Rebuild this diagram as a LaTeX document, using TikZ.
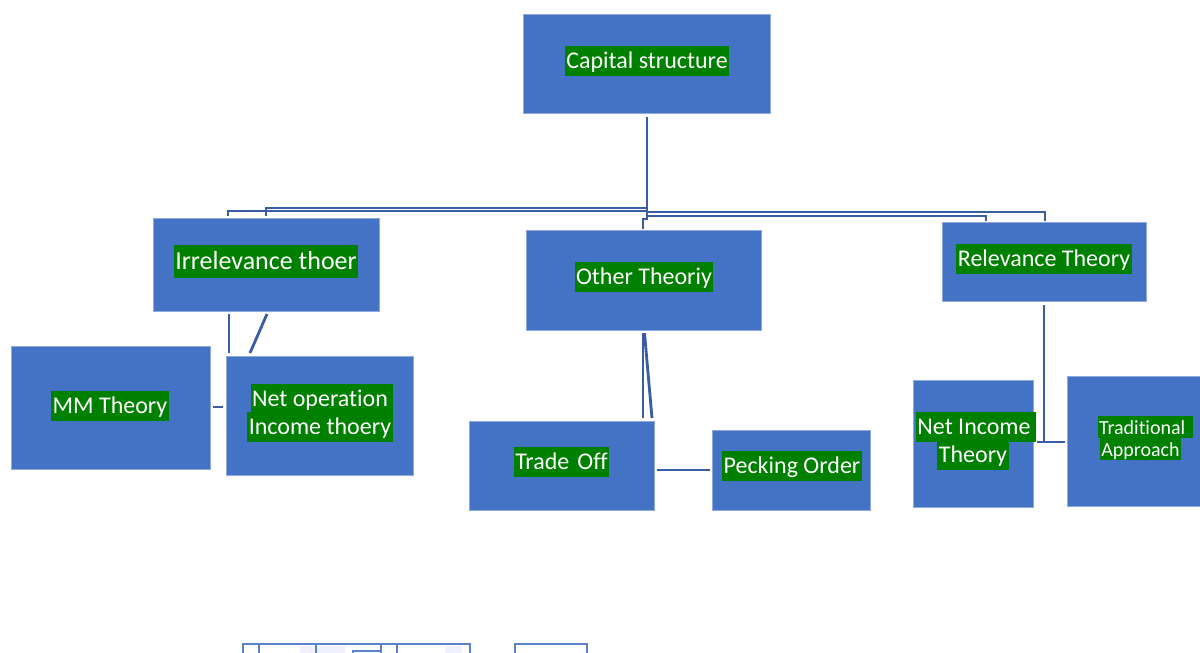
\documentclass[tikz,border=0pt]{standalone}
\usepackage{fontspec}
\setmainfont[Ligatures=NoCommon]{Carlito}
\definecolor{boxblue}{HTML}{4472C4}
\definecolor{boxedge}{HTML}{8EA9DB}
\definecolor{lblgreen}{HTML}{008000}
\definecolor{linkblue}{HTML}{3A5CA5}
\definecolor{ghostblue}{HTML}{5B82CC}
\tikzset{
  bluebox/.style={draw=boxedge, line width=1pt, fill=boxblue, inner sep=0pt, outer sep=0pt},
  lbl/.style={fill=lblgreen, text=white, inner xsep=1.5pt, inner ysep=0pt,
    font=\fontsize{24}{29}\selectfont, text height=22.8pt, text depth=7.2pt},
  lblbig/.style={lbl, font=\fontsize{26}{32}\selectfont, text height=24.8pt, text depth=8pt},
  lblsmall/.style={lbl, font=\fontsize{20}{24}\selectfont, text height=18pt, text depth=4pt},
  link/.style={draw=linkblue, line width=2.8pt},
  ghost/.style={draw=ghostblue, line width=2.5pt}
}
\begin{document}
\begin{tikzpicture}[x=1pt,y=-1pt]
\useasboundingbox (0,0) rectangle (1200,653);
\fill[white] (0,0) rectangle (1200,653);
\clip (0,0) rectangle (1200,653);

% boxes
\node[bluebox, minimum width=247pt, minimum height=99pt] (cap) at (646.5,63.5) {};
\node[bluebox, minimum width=226pt, minimum height=93pt] (irr) at (266,264.5) {};
\node[bluebox, minimum width=235pt, minimum height=100pt] (oth) at (643.5,280) {};
\node[bluebox, minimum width=204pt, minimum height=79pt] (rel) at (1044,261.5) {};
\node[bluebox, minimum width=199pt, minimum height=123pt] (mm) at (110.5,407.5) {};
\node[bluebox, minimum width=187pt, minimum height=119pt] (netop) at (319.5,415.5) {};
\node[bluebox, minimum width=185pt, minimum height=89pt] (trade) at (561.5,465.5) {};
\node[bluebox, minimum width=158pt, minimum height=80pt] (peck) at (791,470) {};
\node[bluebox, minimum width=120pt, minimum height=127pt] (netinc) at (973,443.5) {};
\node[bluebox, minimum width=156pt, minimum height=130pt] (trad) at (1145,441) {};

% labels
\node[lbl] (capL) at (647,60.5) {Capital structure};
\node[lblbig] (irrL) at (266,261.5) {Irrelevance thoer};
\node[lbl] (othL) at (644,276.5) {Other Theoriy};
\node[lbl] (relL) at (1044,258.5) {Relevance Theory};
\node[lbl] (mmL) at (110,405.5) {MM Theory};
\node[lbl] (netopL1) at (322,399) {Net operation\,};
\node[lbl] (netopL2) at (320,427) {Income thoery};
\node[lbl] (tradeL) at (561.5,462) {Trade\,\,Off};
\node[lbl] (peckL) at (792,466) {Pecking Order};
\node[lbl] (netincL1) at (976,426.7) {Net Income\,};
\node[lbl] (netincL2) at (973,454.7) {Theory};
\node[lblsmall] (tradL1) at (1145.5,427) {Traditional\,\,};
\node[lblsmall] (tradL2) at (1140.5,449) {Approach};

% connector points
\coordinate (t0) at (647,117);
\coordinate (t1) at (647,219);
\coordinate (t2) at (643,229);
\coordinate (ha) at (647,211);
\coordinate (ea) at (228,216);
\coordinate (hb) at (647,208);
\coordinate (eb) at (266,216);
\coordinate (hc) at (647,212);
\coordinate (ec) at (1045,221);
\coordinate (hd) at (647,216);
\coordinate (ed) at (986,221);
\coordinate (i1) at (229,314);
\coordinate (i2) at (229,353);
\coordinate (i3) at (267,314);
\coordinate (i4) at (250,353);
\coordinate (m1) at (213,407);
\coordinate (m2) at (223,407);
\coordinate (o1) at (643,333);
\coordinate (o2) at (643,418);
\coordinate (o3) at (644.5,333);
\coordinate (o4) at (652,418);
\coordinate (p1) at (657,470);
\coordinate (p2) at (710,470);
\coordinate (r1) at (1044,305);
\coordinate (r2) at (1044,442);
\coordinate (r3) at (1037,442);
\coordinate (r4) at (1065,442);

% connectors
\draw[link] (t0) -- (t1) -| (t2);
\draw[link] (ha) -| (ea);
\draw[link] (hb) -| (eb);
\draw[link] (hc) -| (ec);
\draw[link] (hd) -| (ed);
\draw[link] (i1) -- (i2);
\draw[link] (i3) -- (i4);
\draw[link] (m1) -- (m2);
\draw[link] (o1) -- (o2);
\draw[link] (o3) -- (o4);
\draw[link] (p1) -- (p2);
\draw[link] (r1) -- (r2);
\draw[link] (r3) -- (r4);

% partial shapes at bottom edge
\fill[blue!6] (300,646) rectangle (345,660);
\fill[blue!6] (445,646) rectangle (462,660);
\draw[ghost] (243,680) -- (243,644) -- (470,644) -- (470,680);
\draw[ghost] (259,644) -- (259,680);
\draw[ghost] (316,644) -- (316,680);
\draw[ghost] (381,644) -- (381,680);
\draw[ghost] (397,644) -- (397,680);
\draw[ghost] (353,680) -- (353,651) -- (381,651);
\draw[ghost] (515,680) -- (515,644) -- (587,644) -- (587,680);
\end{tikzpicture}
\end{document}
